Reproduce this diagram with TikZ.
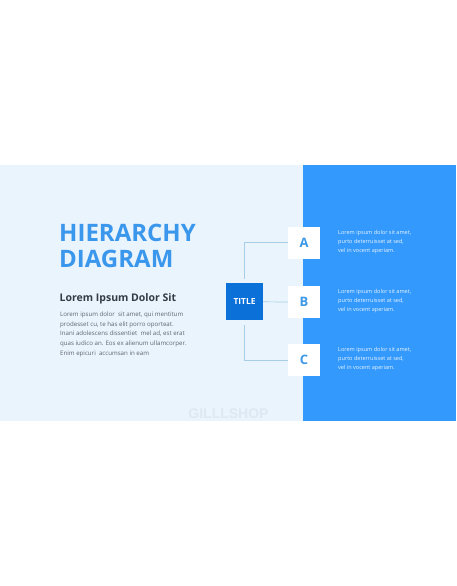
\documentclass[tikz,border=0pt]{standalone}
\usepackage{fontspec}
\setmainfont{Open Sans}
\newfontfamily\wmfont{Liberation Sans}
\definecolor{lightbg}{HTML}{EAF4FD}
\definecolor{panelblue}{HTML}{3399FC}
\definecolor{titleblue}{HTML}{0B70D8}
\definecolor{headblue}{HTML}{3A97EC}
\definecolor{letterblue}{HTML}{3D98E6}
\definecolor{linecol}{HTML}{A8CDE6}
\definecolor{darktext}{HTML}{343B45}
\definecolor{bodytext}{HTML}{5E6670}
\definecolor{wmcol}{HTML}{DFE8F2}
\definecolor{sidecol}{HTML}{EAF4FF}
\tikzset{
  letterbox/.style={fill=white, minimum width=32pt, minimum height=32pt, inner sep=0pt,
    font=\fontsize{13}{13}\selectfont\bfseries, text=letterblue},
  titlebox/.style={fill=titleblue, minimum width=37pt, minimum height=37pt, inner sep=0pt,
    font=\fontsize{8.4}{9}\selectfont\bfseries, text=white},
  conn/.style={draw=linecol, line width=0.7pt},
  sidetext/.style={anchor=west, align=left, inner sep=0pt, text=sidecol,
    font=\fontsize{5.55}{9}\selectfont},
  heading/.style={anchor=base west, inner sep=0pt, text=headblue,
    font=\fontsize{24}{24}\selectfont\bfseries},
}
\begin{document}
\begin{tikzpicture}[x=1pt,y=-1pt]
\useasboundingbox (0,0) rectangle (456,586);
\fill[white] (0,0) rectangle (456,586);
\fill[lightbg] (0,165) rectangle (303,421);
\fill[panelblue] (303,165) rectangle (456,421);

\node[heading] (h1) at (59,241.7) {HIERARCHY};
\node[heading] (h2) at (59,267.3) {DIAGRAM};
\node[anchor=base west, inner sep=0pt, text=darktext, font=\fontsize{10.5}{10.5}\selectfont\bfseries] (sub) at (59.5,301.7) {Lorem Ipsum Dolor Sit};
\node[anchor=north west, inner sep=0pt, align=left, text=bodytext, font=\fontsize{6.15}{9.67}\selectfont] (body) at (60,311.7)
  {Lorem ipsum dolor\ \ sit amet, qui mentitum\\
   prodesset cu, te has elit porro oporteat.\\
   Inani adolescens dissentiet\ \ mel ad, est erat\\
   quas iudico an. Eos ex alienum ullamcorper.\\
   Enim epicuri\ \ accumsan in eam};

\node[titlebox] (title) at (244.5,301.8) {TITLE};
\node[letterbox] (A) at (304,242.6) {A};
\node[letterbox] (B) at (304,302) {B};
\node[letterbox] (C) at (304,360) {C};

\draw[conn, shorten <=4.5pt] (title.north) |- (A.west);
\draw[conn] (title.east) -- (B.west);
\draw[conn, shorten <=4.5pt] (title.south) |- (C.west);

\node[sidetext] (ta) at (338,242.2) {Lorem ipsum dolor sit amet,\\purto deterruisset at sed,\\vel in vocent aperiam.};
\node[sidetext] (tb) at (338,301.4) {Lorem ipsum dolor sit amet,\\purto deterruisset at sed,\\vel in vocent aperiam.};
\node[sidetext] (tc) at (338,359.4) {Lorem ipsum dolor sit amet,\\purto deterruisset at sed,\\vel in vocent aperiam.};

\node[inner sep=0pt, text=wmcol, font=\wmfont\fontsize{14}{14}\selectfont\bfseries] (wm) at (228.5,413.3) {GILLLSHOP};
\end{tikzpicture}
\end{document}
